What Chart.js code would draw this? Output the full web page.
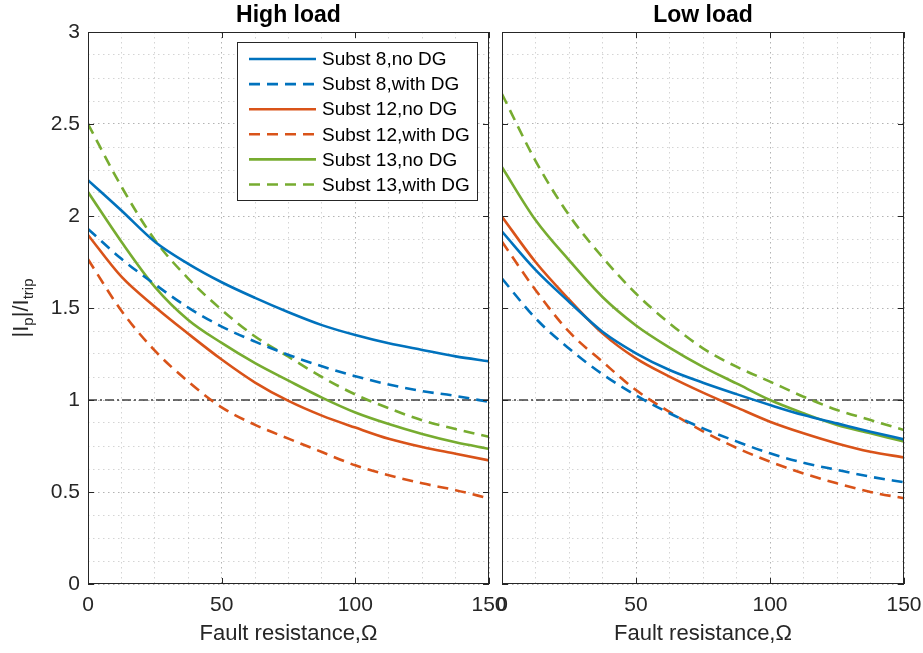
<!DOCTYPE html>
<html>
<head>
<meta charset="utf-8">
<script src="https://cdn.jsdelivr.net/npm/chart.js@4.4.1/dist/chart.umd.min.js"></script>
<style>
  body { margin: 0; background: #fff; }
  #wrap { position: relative; width: 923px; height: 653px; overflow: hidden; }
  #left { position: absolute; left: 0; top: 0; }
  #right { position: absolute; left: 490px; top: 0; }
</style>
</head>
<body>
<div id="wrap">
  <canvas id="left" width="510" height="653"></canvas>
  <canvas id="right" width="433" height="653"></canvas>
</div>
<script>
// fault resistance (ohm)
var resistance = [0, 12.5, 25, 37.5, 50, 62.5, 75, 87.5, 100, 112.5, 125, 137.5, 150];
var seriesNames = ['Subst 8,no DG', 'Subst 8,with DG', 'Subst 12,no DG', 'Subst 12,with DG', 'Subst 13,no DG', 'Subst 13,with DG'];
var panelTitles = ['High load', 'Low load'];
var tripLevel = 1;

// high load
var high8NoDG    = [2.195, 2.03, 1.86, 1.74, 1.64, 1.555, 1.477, 1.407, 1.353, 1.308, 1.272, 1.237, 1.21];
var high8DG      = [1.93, 1.767, 1.629, 1.502, 1.399, 1.317, 1.245, 1.183, 1.129, 1.084, 1.048, 1.022, 0.99];
var high12NoDG   = [1.897, 1.67, 1.507, 1.36, 1.22, 1.095, 0.995, 0.915, 0.85, 0.789, 0.744, 0.708, 0.672];
var high12DG     = [1.765, 1.485, 1.268, 1.10, 0.96, 0.865, 0.79, 0.717, 0.645, 0.591, 0.547, 0.51, 0.465];
var high13NoDG   = [2.13, 1.86, 1.615, 1.435, 1.31, 1.20, 1.105, 1.013, 0.932, 0.869, 0.815, 0.77, 0.735];
var high13DG     = [2.50, 2.16, 1.87, 1.66, 1.49, 1.345, 1.235, 1.125, 1.03, 0.955, 0.89, 0.842, 0.80];

// low load
var low8NoDG     = [1.915, 1.707, 1.534, 1.371, 1.254, 1.163, 1.094, 1.032, 0.973, 0.918, 0.873, 0.828, 0.786];
var low8DG       = [1.66, 1.444, 1.28, 1.14, 1.025, 0.928, 0.846, 0.775, 0.71, 0.659, 0.62, 0.583, 0.553];
var low12NoDG    = [1.996, 1.75, 1.547, 1.362, 1.226, 1.127, 1.04, 0.96, 0.882, 0.819, 0.764, 0.719, 0.688];
var low12DG      = [1.86, 1.598, 1.371, 1.208, 1.054, 0.935, 0.83, 0.74, 0.665, 0.601, 0.547, 0.50, 0.466];
var low13NoDG    = [2.265, 1.978, 1.76, 1.56, 1.405, 1.285, 1.18, 1.09, 1.0, 0.928, 0.864, 0.819, 0.774];
var low13DG      = [2.663, 2.30, 2.005, 1.776, 1.578, 1.417, 1.281, 1.181, 1.10, 1.018, 0.946, 0.891, 0.837];

var colors = ['#0072BD', '#0072BD', '#D95319', '#D95319', '#77AC30', '#77AC30'];
var dashes = [[], [11, 7], [], [11, 7], [], [11, 7]];

Chart.defaults.font.family = '"Liberation Sans", Arial, sans-serif';
Chart.defaults.color = '#262626';

function makeSets(list) {
  var sets = list.map(function (vals, k) {
    return {
      label: seriesNames[k],
      data: resistance.map(function (x, i) { return {x: x, y: vals[i]}; }),
      borderColor: colors[k],
      borderDash: dashes[k],
      borderWidth: 2.6,
      pointRadius: 0,
      cubicInterpolationMode: 'monotone',
      fill: false
    };
  });
  sets.push({
    label: 'trip',
    data: [{x: resistance[0], y: tripLevel}, {x: resistance[resistance.length - 1], y: tripLevel}],
    borderColor: '#404040',
    borderDash: [9, 3, 2, 3],
    borderWidth: 1.5,
    pointRadius: 0
  });
  return sets;
}

function isMajor(v, step) { return Math.abs(v / step - Math.round(v / step)) < 1e-6; }

// axes box with inward ticks
var boxPlugin = {
  id: 'box',
  afterDatasetsDraw: function (chart) {
    var ctx = chart.ctx, a = chart.chartArea;
    var xs = chart.scales.x, ys = chart.scales.y;
    ctx.save();
    ctx.strokeStyle = '#262626';
    ctx.lineWidth = 1;
    ctx.strokeRect(Math.round(a.left) + 0.5, Math.round(a.top) + 0.5, Math.round(a.right - a.left) - 1, Math.round(a.bottom - a.top) - 1);
    ctx.beginPath();
    [0, 50, 100, 150].forEach(function (v) {
      var px = Math.round(xs.getPixelForValue(v)) + 0.5;
      ctx.moveTo(px, a.bottom); ctx.lineTo(px, a.bottom - 6);
      ctx.moveTo(px, a.top); ctx.lineTo(px, a.top + 6);
    });
    [0, 0.5, 1, 1.5, 2, 2.5, 3].forEach(function (v) {
      var py = Math.round(ys.getPixelForValue(v)) + 0.5;
      ctx.moveTo(a.left, py); ctx.lineTo(a.left + 6, py);
      ctx.moveTo(a.right, py); ctx.lineTo(a.right - 6, py);
    });
    ctx.stroke();
    ctx.restore();
  }
};

// legend box inside the left panel
var legendPlugin = {
  id: 'boxLegend',
  afterDraw: function (chart) {
    var ctx = chart.ctx;
    var sets = chart.data.datasets.slice(0, 6);
    ctx.save();
    ctx.fillStyle = '#fff';
    ctx.fillRect(238, 42, 240, 159);
    ctx.strokeStyle = '#262626';
    ctx.lineWidth = 1;
    ctx.strokeRect(237.5, 42.5, 240, 158);
    ctx.font = '19px "Liberation Sans", Arial, sans-serif';
    ctx.textBaseline = 'middle';
    ctx.textAlign = 'left';
    sets.forEach(function (ds, i) {
      var y = 59 + i * 25.1;
      ctx.beginPath();
      ctx.strokeStyle = ds.borderColor;
      ctx.lineWidth = ds.borderWidth;
      ctx.setLineDash(ds.borderDash);
      ctx.moveTo(249, y); ctx.lineTo(316, y);
      ctx.stroke();
      ctx.setLineDash([]);
      ctx.fillStyle = '#000';
      ctx.fillText(ds.label, 322, y + 1);
    });
    ctx.restore();
  }
};

// y axis title with subscripts
var yTitlePlugin = {
  id: 'yTitle',
  afterDraw: function (chart) {
    var ctx = chart.ctx;
    var parts = [['|I', 22, 0], ['p', 15, 5], ['|/I', 22, 0], ['trip', 15, 5]];
    ctx.save();
    ctx.translate(28, 308);
    ctx.rotate(-Math.PI / 2);
    ctx.fillStyle = '#262626';
    ctx.textBaseline = 'alphabetic';
    var total = 0;
    parts.forEach(function (p) {
      ctx.font = p[1] + 'px "Liberation Sans", Arial, sans-serif';
      p.push(ctx.measureText(p[0]).width);
      total += p[3];
    });
    var x = -total / 2;
    parts.forEach(function (p) {
      ctx.font = p[1] + 'px "Liberation Sans", Arial, sans-serif';
      ctx.fillText(p[0], x, p[2]);
      x += p[3];
    });
    ctx.restore();
  }
};

function makeOptions(title, yWidth, padRight, showY) {
  return {
    responsive: false,
    animation: false,
    layout: { padding: { left: 0, right: padRight, top: 0, bottom: 0 } },
    plugins: {
      legend: { display: false },
      tooltip: { enabled: false },
      title: {
        display: true,
        text: title,
        fullSize: false,
        color: '#000',
        font: { size: 23, weight: 'bold' },
        padding: { top: 1.4, bottom: 3 }
      }
    },
    scales: {
      x: {
        type: 'linear',
        min: 0,
        max: 150,
        afterFit: function (s) {
          s.height = 69;
          s.paddingLeft = 0;
          s.paddingRight = 0;
        },
        grid: {
          drawTicks: false,
          color: function (c) { return isMajor(c.tick.value, 50) ? 'rgba(38,38,38,0.35)' : 'rgba(38,38,38,0.2)'; }
        },
        border: { display: false, dash: [1.5, 3.5] },
        ticks: {
          stepSize: 12.5,
          autoSkip: false,
          maxRotation: 0,
          padding: 9,
          font: { size: 21 },
          callback: function (v) { return isMajor(v, 50) ? String(v) : ''; }
        },
        title: {
          display: true,
          text: 'Fault resistance,\u03A9',
          font: { size: 22 },
          padding: { top: 0, bottom: 6 }
        }
      },
      y: {
        min: 0,
        max: 3,
        afterFit: function (s) {
          s.width = yWidth;
          s.paddingTop = 0;
          s.paddingBottom = 0;
        },
        grid: {
          drawTicks: false,
          color: function (c) { return isMajor(c.tick.value, 0.5) ? 'rgba(38,38,38,0.35)' : 'rgba(38,38,38,0.2)'; }
        },
        border: { display: false, dash: [1.5, 3.5] },
        ticks: {
          display: showY,
          stepSize: 0.125,
          autoSkip: false,
          padding: 8,
          font: { size: 21 },
          callback: function (v) { return isMajor(v, 0.5) ? String(v) : ''; }
        }
      }
    }
  };
}

new Chart(document.getElementById('left'), {
  type: 'line',
  data: { datasets: makeSets([high8NoDG, high8DG, high12NoDG, high12DG, high13NoDG, high13DG]) },
  options: makeOptions(panelTitles[0], 88, 21, true),
  plugins: [boxPlugin, legendPlugin, yTitlePlugin]
});

new Chart(document.getElementById('right'), {
  type: 'line',
  data: { datasets: makeSets([low8NoDG, low8DG, low12NoDG, low12DG, low13NoDG, low13DG]) },
  options: makeOptions(panelTitles[1], 12, 19, false),
  plugins: [boxPlugin]
});
</script>
</body>
</html>
